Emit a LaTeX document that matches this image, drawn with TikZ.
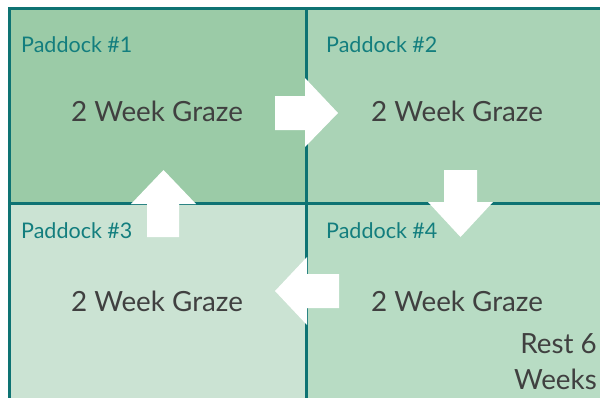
\documentclass[tikz,border=0pt]{standalone}
\usepackage{fontspec}
\setmainfont{Lato}
\definecolor{pOne}{RGB}{155,203,167}
\definecolor{pTwo}{RGB}{170,211,182}
\definecolor{pThree}{RGB}{203,227,211}
\definecolor{pFour}{RGB}{184,220,196}
\definecolor{rule}{RGB}{14,115,115}
\definecolor{tag}{RGB}{19,126,126}
\definecolor{body}{RGB}{64,64,64}
\tikzset{
  tagtext/.style={anchor=base west, inner sep=0pt, text=tag, font=\fontsize{21.5}{25}\selectfont},
  graze/.style={anchor=base, inner sep=0pt, text=body, font=\fontsize{27.8}{33}\selectfont},
  resttext/.style={anchor=base east, inner sep=0pt, text=body, font=\fontsize{27.8}{33}\selectfont},
  gridline/.style={draw=rule, line width=2.6pt},
  blockarrow/.style={fill=white},
}
\begin{document}
\begin{tikzpicture}[x=1pt, y=-1pt]
\useasboundingbox (0,0) rectangle (600,397);
\begin{scope}
\clip (0,0) rectangle (600,397);
% paddock fills
\fill[pOne]   (9.5,8.5)   rectangle (306.5,203.5);
\fill[pTwo]   (306.5,8.5) rectangle (620,203.5);
\fill[pThree] (9.5,203.5) rectangle (306.5,420);
\fill[pFour]  (306.5,203.5) rectangle (620,420);
% outer frame and dividers
\draw[gridline] (9.5,420) -- (9.5,8.5) -- (620,8.5);
\draw[gridline] (306.5,8.5) -- (306.5,420);
\draw[gridline] (9.5,203.5) -- (620,203.5);
\end{scope}
% paddock labels
\node[tagtext] (t1) at (21,52) {Paddock \#1};
\node[tagtext] (t2) at (326,52) {Paddock \#2};
\node[tagtext] (t3) at (21,238) {Paddock \#3};
\node[tagtext] (t4) at (326,238) {Paddock \#4};
% grazing periods
\node[graze] (g1) at (157,121.7) {2 Week Graze};
\node[graze] (g2) at (457,121.7) {2 Week Graze};
\node[graze] (g3) at (157,311.5) {2 Week Graze};
\node[graze] (g4) at (457,311.5) {2 Week Graze};
\node[resttext] (r1) at (597,353) {Rest 6};
\node[resttext] (r2) at (597,389) {Weeks};
% rotation arrows
\fill[blockarrow] (275,96) -- (305,96) -- (305,78) -- (338,113) -- (305,147) -- (305,130) -- (275,130) -- cycle;
\fill[blockarrow] (444,170) -- (477,170) -- (477,202) -- (493,202) -- (460.5,237) -- (428,202) -- (444,202) -- cycle;
\fill[blockarrow] (339,274) -- (307,274) -- (307,257) -- (275,291) -- (307,325) -- (307,308) -- (339,308) -- cycle;
\fill[blockarrow] (147,237) -- (179,237) -- (179,204) -- (196,204) -- (163.5,170) -- (131,204) -- (147,204) -- cycle;
\end{tikzpicture}
\end{document}
